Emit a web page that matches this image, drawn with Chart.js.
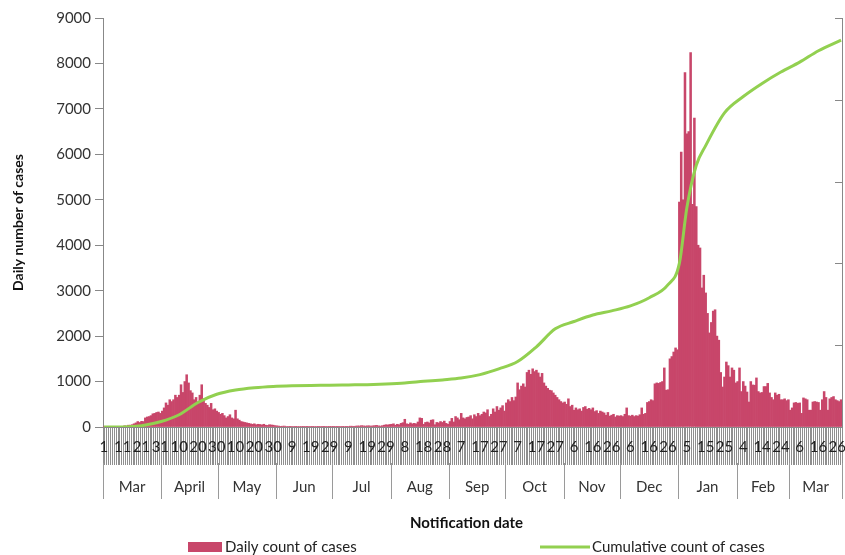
<!DOCTYPE html>
<html lang="en">
<head>
<meta charset="UTF-8">
<title>Daily and cumulative count of cases</title>
<script src="https://cdn.jsdelivr.net/npm/chart.js"></script>
<style>
  html, body { margin: 0; padding: 0; background: #fff; }
  #wrap { width: 845px; height: 555px; position: relative; }
</style>
</head>
<body>
<div id="wrap"><canvas id="chart"></canvas></div>
<script>
// month names along the axis, one entry per month block
const monthNames = ['Mar', 'April', 'May', 'Jun', 'Jul', 'Aug', 'Sep', 'Oct', 'Nov', 'Dec', 'Jan', 'Feb', 'Mar'];

// daily count of cases
const mar20 = [1, 0, 0, 2, 5, 2, 5, 4, 11, 8, 15, 27, 20, 40, 40, 50, 70, 90, 120, 100, 125, 120, 200, 220, 230, 250, 290, 300, 320, 330, 300];
const apr20 = [350, 420, 530, 480, 600, 560, 600, 700, 650, 700, 930, 760, 1000, 1150, 970, 800, 750, 600, 650, 550, 700, 930, 620, 520, 480, 430, 520, 380, 400, 350];
const may20 = [320, 280, 300, 250, 200, 230, 270, 200, 180, 370, 180, 150, 120, 110, 100, 90, 80, 70, 60, 70, 50, 60, 55, 45, 60, 40, 35, 50, 45, 40, 30];
const jun20 = [25, 20, 15, 18, 20, 12, 10, 15, 10, 12, 14, 10, 12, 9, 8, 10, 15, 12, 9, 8, 10, 12, 8, 10, 9, 7, 12, 10, 8, 9];
const jul20 = [6, 10, 8, 9, 12, 8, 10, 15, 12, 18, 17, 15, 20, 23, 22, 30, 25, 20, 25, 26, 20, 25, 30, 35, 25, 20, 28, 40, 50, 45, 55];
const aug20 = [60, 70, 40, 60, 50, 80, 95, 170, 70, 60, 90, 70, 80, 70, 110, 200, 190, 60, 100, 110, 90, 150, 160, 50, 100, 90, 120, 100, 130, 80, 60];
const sep20 = [120, 190, 110, 230, 200, 160, 300, 200, 180, 210, 220, 250, 180, 270, 230, 300, 250, 280, 330, 310, 380, 230, 280, 400, 330, 450, 370, 420, 470, 350];
const oct20 = [530, 600, 560, 650, 580, 660, 970, 820, 900, 950, 880, 1200, 1250, 1160, 1280, 1220, 1250, 1190, 1100, 1180, 970, 900, 850, 810, 800, 750, 700, 650, 600, 560, 530];
const nov20 = [550, 500, 620, 450, 480, 370, 420, 380, 400, 350, 430, 450, 390, 410, 380, 420, 340, 360, 300, 350, 330, 310, 260, 320, 240, 260, 280, 220, 250, 240];
const dec20 = [250, 230, 280, 420, 250, 240, 260, 230, 250, 240, 270, 420, 280, 300, 540, 560, 600, 580, 950, 970, 960, 980, 1000, 1300, 810, 820, 1500, 1550, 1650, 1740, 1700];
const jan21 = [4950, 6050, 5000, 7800, 6450, 6500, 8240, 4900, 6800, 4850, 4000, 3940, 3060, 3340, 2950, 2500, 2070, 2300, 2550, 2580, 2000, 1910, 1200, 880, 1100, 1430, 1350, 1100, 1300, 1250, 970];
const feb21 = [1000, 1300, 780, 1000, 900, 770, 550, 1000, 925, 920, 1080, 780, 750, 760, 890, 890, 960, 750, 650, 600, 750, 700, 720, 600, 600, 620, 580, 600];
const mar21 = [370, 420, 530, 540, 520, 530, 300, 640, 620, 600, 370, 370, 550, 560, 550, 540, 370, 600, 780, 650, 370, 620, 650, 670, 600, 580, 560, 600];

const monthData = [mar20, apr20, may20, jun20, jul20, aug20, sep20, oct20, nov20, dec20, jan21, feb21, mar21];

// cumulative count at these day positions (0 = 1 Mar)
const cumDay = [0, 10, 20, 30, 40, 50, 60, 70, 80, 90, 100, 110, 120, 130, 140, 150, 160, 170, 180, 190, 200, 210, 220, 230, 240, 250, 260, 270, 280, 290, 300, 306, 310, 315, 320, 330, 340, 350, 360, 370, 380, 392];
const cumValue = [0, 40, 800, 3200, 7500, 15000, 20000, 22600, 24000, 24800, 25200, 25400, 25500, 25700, 25900, 26300, 26900, 27900, 28800, 29900, 32000, 35500, 40000, 49000, 60000, 64500, 68500, 71000, 74000, 79000, 87000, 100000, 134000, 160000, 172000, 192000, 202000, 210000, 217000, 223000, 230000, 236500];

const yTicksMax = 9000;
const y2Max = 250000;

// build categories (day of month) and flat series
const labels = [];
const daily = [];
monthData.forEach(m => m.forEach((v, i) => { labels.push(String(i + 1)); daily.push(v); }));
const cumulative = labels.map(() => null);
cumDay.forEach((d, i) => { cumulative[d] = cumValue[i]; });

const FONT = 'Lato, "DejaVu Sans", sans-serif';
const barColor = '#c8466a';
const lineColor = '#92d050';

const extras = {
  id: 'extras',
  afterDraw(chart) {
    const { ctx, chartArea: a, scales: { x, y2 } } = chart;
    const half = (x.getPixelForValue(1) - x.getPixelForValue(0)) / 2;
    ctx.save();

    // month separators + names
    const bounds = [0];
    monthData.forEach(m => bounds.push(bounds[bounds.length - 1] + m.length));
    ctx.strokeStyle = '#9a9a9a';
    ctx.lineWidth = 1;
    bounds.forEach(b => {
      const px = Math.round(x.getPixelForValue(b) - half) + 0.5;
      ctx.beginPath();
      ctx.moveTo(px, a.bottom + 36);
      ctx.lineTo(px, a.bottom + 72);
      ctx.stroke();
    });
    ctx.fillStyle = '#333';
    ctx.font = '15px ' + FONT;
    ctx.textAlign = 'center';
    ctx.textBaseline = 'middle';
    monthNames.forEach((name, i) => {
      const x0 = x.getPixelForValue(bounds[i]) - half;
      const x1 = x.getPixelForValue(bounds[i + 1]) - half;
      ctx.fillText(name, (x0 + x1) / 2, a.bottom + 60);
    });

    // x axis title
    ctx.fillStyle = '#111';
    ctx.font = 'bold 15px ' + FONT;
    ctx.fillText('Notification date', (a.left + a.right) / 2 - 6, a.bottom + 96);

    // right axis tick marks (pointing inward)
    ctx.strokeStyle = '#888';
    for (let v = 0; v <= y2Max; v += 50000) {
      const py = Math.round(y2.getPixelForValue(v)) + 0.5;
      ctx.beginPath();
      ctx.moveTo(a.right - 7, py);
      ctx.lineTo(a.right, py);
      ctx.stroke();
    }

    // legend
    const ly = a.bottom + 120;
    ctx.fillStyle = barColor;
    ctx.fillRect(188, ly - 5, 34, 10);
    ctx.strokeStyle = lineColor;
    ctx.lineWidth = 3;
    ctx.beginPath();
    ctx.moveTo(540, ly);
    ctx.lineTo(590, ly);
    ctx.stroke();
    ctx.fillStyle = '#222';
    ctx.font = '15px ' + FONT;
    ctx.textAlign = 'left';
    ctx.fillText('Daily count of cases', 225, ly);
    ctx.fillText('Cumulative count of cases', 592, ly);
    ctx.restore();
  }
};

new Chart(document.getElementById('chart'), {
  type: 'bar',
  data: {
    labels: labels,
    datasets: [
      {
        type: 'line',
        label: 'Cumulative count of cases',
        data: cumulative,
        yAxisID: 'y2',
        borderColor: lineColor,
        borderWidth: 3,
        pointRadius: 0,
        spanGaps: true,
        cubicInterpolationMode: 'monotone',
        order: 0
      },
      {
        label: 'Daily count of cases',
        data: daily,
        yAxisID: 'y',
        backgroundColor: barColor,
        borderWidth: 0,
        barPercentage: 1.0,
        categoryPercentage: 1.0,
        order: 1
      }
    ]
  },
  options: {
    responsive: true,
    maintainAspectRatio: false,
    animation: false,
    layout: { padding: { left: 10, right: 0, top: 18, bottom: 0 } },
    plugins: { legend: { display: false }, tooltip: { enabled: false } },
    scales: {
      x: {
        grid: { display: true, drawOnChartArea: false, drawTicks: true, tickLength: 38, color: '#8f8f8f', offset: true },
        border: { color: '#888' },
        ticks: {
          autoSkip: false, maxRotation: 0, minRotation: 0, padding: -27,
          color: '#222', font: { size: 15, family: FONT },
          callback(v, i) { return i % 10 === 0 ? this.getLabelForValue(v) : ''; }
        },
        afterFit(s) { s.height = 128; }
      },
      y: {
        position: 'left',
        min: 0, max: yTicksMax,
        ticks: { stepSize: 1000, padding: 4, color: '#333', font: { size: 15, family: FONT }, callback: v => String(v) },
        grid: { drawOnChartArea: false, tickLength: 8, color: '#888' },
        border: { color: '#888' },
        title: { display: true, text: 'Daily number of cases', color: '#111', font: { size: 14, weight: 'bold', family: FONT }, padding: 0 },
        afterFit(s) { s.width = 93; }
      },
      y2: {
        position: 'right',
        min: 0, max: y2Max,
        ticks: { display: false, stepSize: 50000 },
        grid: { drawOnChartArea: false, drawTicks: false },
        border: { color: '#888' },
        afterFit(s) { s.width = 3; }
      }
    }
  },
  plugins: [extras]
});
</script>
</body>
</html>
